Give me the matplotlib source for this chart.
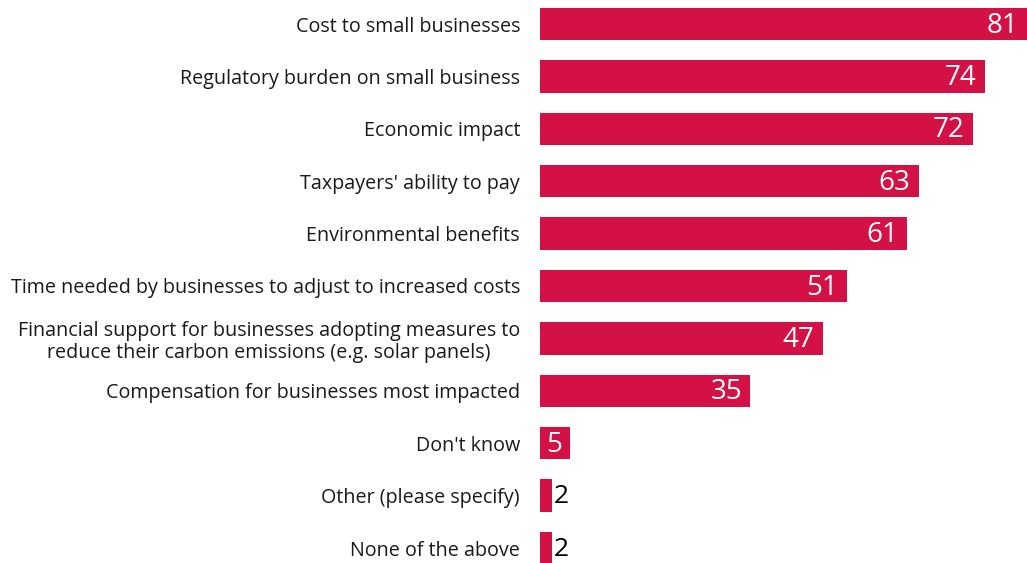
import matplotlib
matplotlib.use("Agg")
import matplotlib.pyplot as plt

# 各项考虑因素及其选择比例(%)
labels = [
    "Cost to small businesses",
    "Regulatory burden on small business",
    "Economic impact",
    "Taxpayers' ability to pay",
    "Environmental benefits",
    "Time needed by businesses to adjust to increased costs",
    "Financial support for businesses adopting measures to\nreduce their carbon emissions (e.g. solar panels)",
    "Compensation for businesses most impacted",
    "Don't know",
    "Other (please specify)",
    "None of the above",
]
values = [81, 74, 72, 63, 61, 51, 47, 35, 5, 2, 2]

RED = "#D31145"
plt.rcParams["font.family"] = ["Open Sans", "DejaVu Sans"]

fig = plt.figure(figsize=(10.27, 5.63), dpi=100)
ax = fig.add_axes([540 / 1027, 0, 1 - 540 / 1027, 1])
ys = list(range(len(values)))
ax.barh(ys, values, height=0.62, color=RED)
ax.set_xlim(0, 81)
ax.set_ylim(10 + 15 / 52.4, -24 / 52.4)

for y, v in zip(ys, values):
    if v >= 5:
        ax.annotate(str(v), (v, y), xytext=(-6, -1.2), textcoords="offset points",
                    ha="right", va="center", color="white", fontsize=20)
    else:
        ax.annotate(str(v), (v, y), xytext=(1.5, -1), textcoords="offset points",
                    ha="left", va="center", color="black", fontsize=19)

ax.set_yticks(ys)
ax.set_yticklabels(labels, fontsize=14.2, color="#1a1a1a", linespacing=1.15)
for t in ax.get_yticklabels():
    t.set_multialignment("center")
ax.tick_params(axis="y", length=0, pad=14.4)
ax.set_xticks([])
for s in ax.spines.values():
    s.set_visible(False)

fig.savefig("out.png", dpi=100)
